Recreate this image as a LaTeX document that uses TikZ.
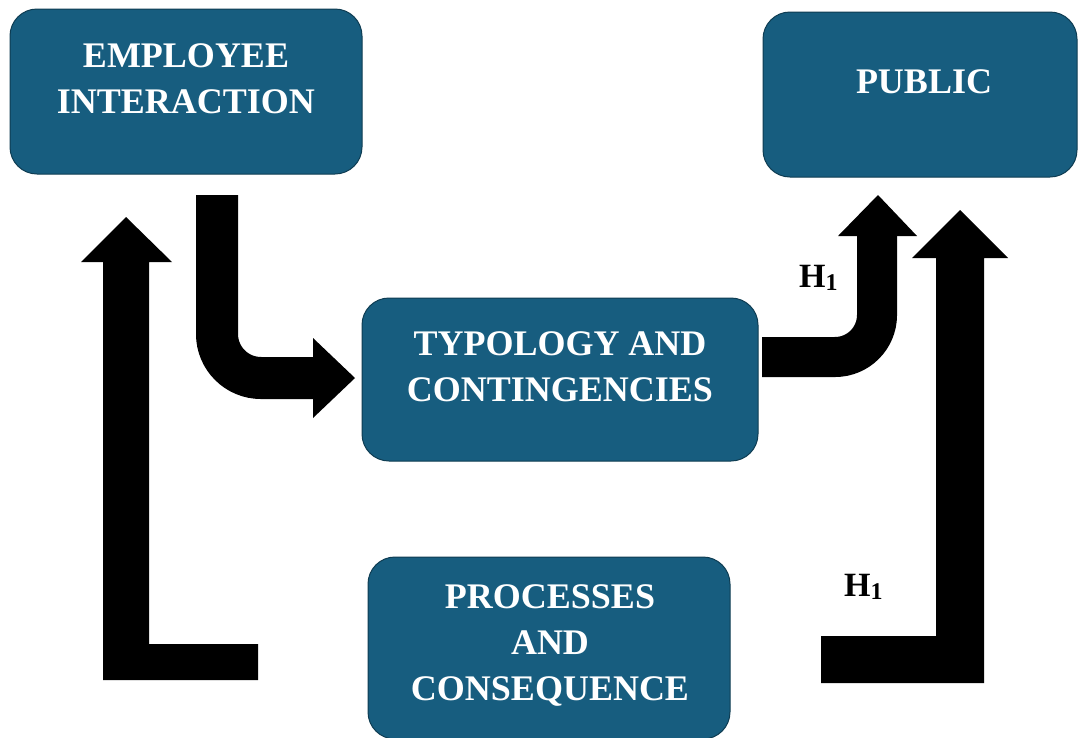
\documentclass[tikz,border=0pt]{standalone}
\usepackage{fontspec}
\setmainfont{Liberation Serif}
\definecolor{boxblue}{HTML}{175D7F}
\definecolor{boxedge}{HTML}{0E3C52}
\begin{document}
\begin{tikzpicture}[x=1pt,y=-1pt,
  box/.style={draw=boxedge, line width=1pt, fill=boxblue, rounded corners=27pt, inner sep=0pt},
  boxtext/.style={text=white, font=\bfseries\fontsize{36}{46}\selectfont, align=center, inner sep=0pt},
  hlabel/.style={font=\bfseries\fontsize{34}{40}\selectfont, inner sep=0pt},
  shaft/.style={line width=#1pt, draw=black},
  head/.style={fill=black, draw=none}]
\useasboundingbox (0,0) rectangle (1078,737);
% boxes
\node[box, minimum width=352pt, minimum height=165pt] (emp) at (186,91.5) {};
\node[box, minimum width=314pt, minimum height=165pt] (pub) at (920,94.5) {};
\node[box, minimum width=396pt, minimum height=163pt] (typ) at (560,379.5) {};
\node[box, minimum width=362pt, minimum height=182pt] (pro) at (549,648) {};
% texts
\node[boxtext] (empt) at (186,79) {EMPLOYEE\\INTERACTION};
\node[boxtext] (pubt) at (924,82) {PUBLIC};
\node[boxtext] (typt) at (560,367) {TYPOLOGY AND\\CONTINGENCIES};
\node[boxtext] (prot) at (550,645) {PROCESSES\\AND\\CONSEQUENCE};
% arrow 1: employee -> typology
\coordinate (a1s) at (217,195);
\coordinate (a1b) at (217,378);
\coordinate (a1e) at (314,378);
\draw[shaft=42, rounded corners=44pt] (a1s) -- (a1b) -- (a1e);
\fill[head] (313,338) -- (355,378) -- (313,418) -- cycle;
% arrow 2: typology -> public
\coordinate (a2s) at (762,357);
\coordinate (a2b) at (877,357);
\coordinate (a2e) at (877,235);
\draw[shaft=40, rounded corners=42pt] (a2s) -- (a2b) -- (a2e);
\fill[head] (838,236) -- (878,195) -- (917,236) -- cycle;
% arrow 3: processes -> public
\fill[head] (821,636) -- (936,636) -- (936,258) -- (912,258) -- (960,210) -- (1008,258) -- (984,258) -- (984,683) -- (821,683) -- cycle;
% arrow 4: processes -> employee
\fill[head] (103,680) -- (258,680) -- (258,644) -- (149,644) -- (149,262) -- (172,262) -- (126,217) -- (81,262) -- (103,262) -- cycle;
% labels
\node[hlabel, anchor=base west] (h1a) at (799,287) {H\raisebox{-0.25ex}{\fontsize{24}{24}\selectfont\bfseries 1}};
\node[hlabel, anchor=base west] (h1b) at (844,596) {H\raisebox{-0.25ex}{\fontsize{24}{24}\selectfont\bfseries 1}};
\end{tikzpicture}
\end{document}
